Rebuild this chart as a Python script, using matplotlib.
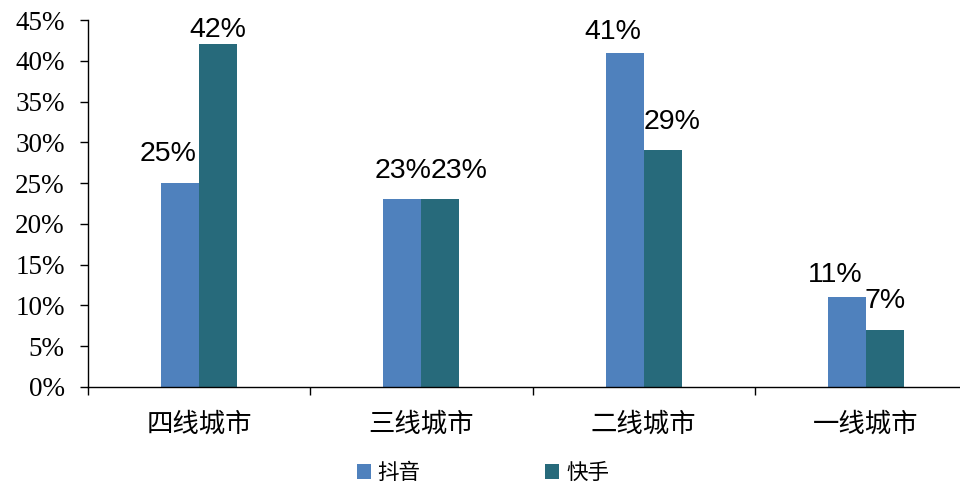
import numpy as np
import matplotlib.pyplot as plt

categories = ['四线城市', '三线城市', '二线城市', '一线城市']
douyin = [0.25, 0.23, 0.41, 0.11]
kuaishou = [0.42, 0.23, 0.29, 0.07]
series_names = ['抖音', '快手']
y_ticks = [0, 0.05, 0.10, 0.15, 0.20, 0.25, 0.30, 0.35, 0.40, 0.45]

blue = '#4F81BD'
teal = '#276A7B'
cjk = ['Noto Sans CJK SC', 'DejaVu Sans']

# label nudges in pixels (dx, dy), the labels were dragged around by hand in the original
nudge_blue = [(-12, 22), (1, 21), (-12, 14), (-12, 15)]
nudge_teal = [(0, 7), (19, 21), (9, 21), (0, 22)]

fig = plt.figure(figsize=(9.6, 5.01), dpi=100)
# right edge of the plot area sits past the picture edge, as in the original
ax = fig.add_axes([88 / 960, 114 / 501, 889 / 960, 367 / 501])

x = np.arange(len(categories))
w = 0.171
b1 = ax.bar(x - w / 2, douyin, w, color=blue, label=series_names[0])
b2 = ax.bar(x + w / 2, kuaishou, w, color=teal, label=series_names[1])

for bars, vals, nudges in ((b1, douyin, nudge_blue), (b2, kuaishou, nudge_teal)):
    for rect, v, (dx, dy) in zip(bars, vals, nudges):
        ax.annotate(f'{v * 100:.0f}%', (rect.get_x() + rect.get_width() / 2, v),
                    xytext=(dx, dy), textcoords='offset pixels',
                    ha='center', va='baseline', fontsize=20.5,
                    family='Liberation Sans', color='black')

ax.set_ylim(0, 0.45)
ax.set_xlim(-0.5, len(categories) - 0.5)
ax.set_yticks(y_ticks)
ax.set_yticklabels([f'{t * 100:.0f}%' for t in y_ticks],
                   family='Liberation Serif', fontsize=19.5)
ax.tick_params(axis='y', direction='out', length=5.8, width=1, pad=11)

ax.set_xticks(np.arange(-0.5, len(categories), 1.0))
ax.set_xticklabels([])
ax.tick_params(axis='x', which='major', direction='out', length=5.8, width=1)
ax.set_xticks(x, minor=True)
ax.set_xticklabels(categories, minor=True, family=cjk, fontsize=19)
ax.tick_params(axis='x', which='minor', length=0, pad=17)

for s in ('top', 'right'):
    ax.spines[s].set_visible(False)
ax.spines['left'].set_linewidth(1)
ax.spines['bottom'].set_linewidth(1)

fig.legend(handles=[b1, b2], loc='center', bbox_to_anchor=(483 / 960, 1 - 473 / 501),
           ncol=2, frameon=False, prop={'family': cjk, 'size': 15.5},
           handlelength=0.65, handleheight=0.65, handletextpad=0.32,
           columnspacing=5.8)

fig.savefig('out.png', dpi=100)
